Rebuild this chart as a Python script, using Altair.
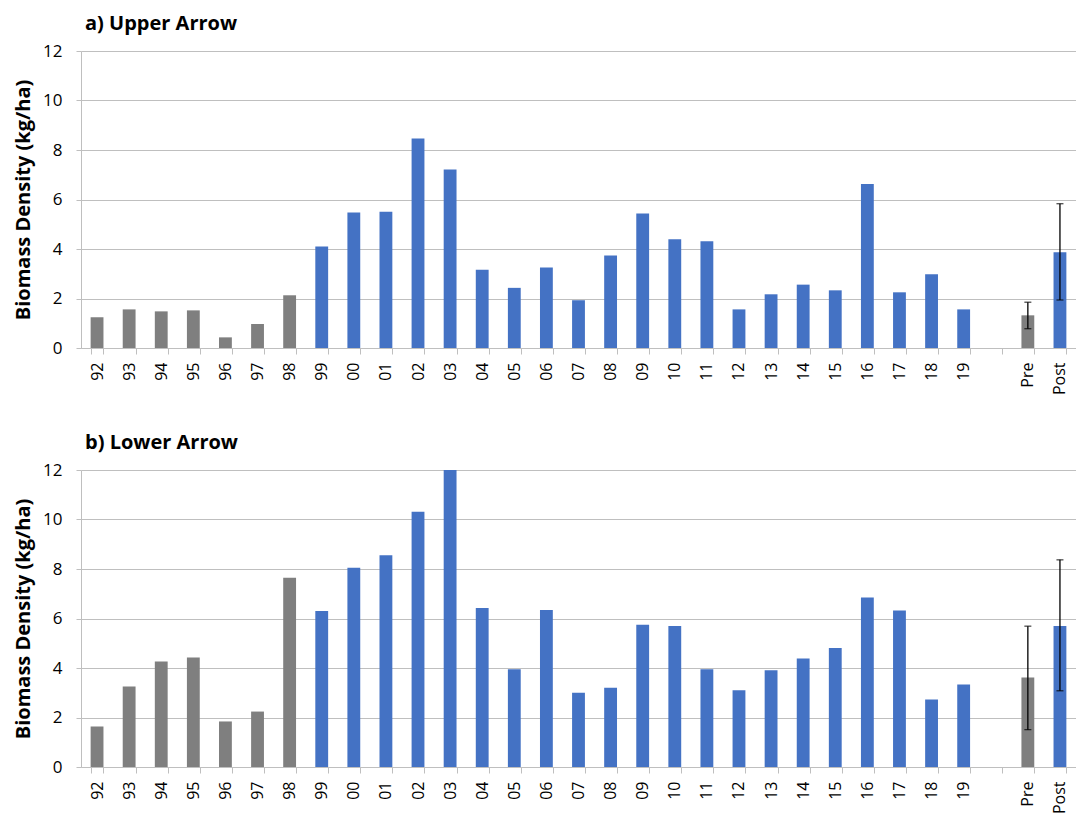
import altair as alt
import pandas as pd

# ---- data ----
years = ["92", "93", "94", "95", "96", "97", "98", "99", "00", "01", "02", "03", "04", "05",
         "06", "07", "08", "09", "10", "11", "12", "13", "14", "15", "16", "17", "18", "19"]
pre_years = ["92", "93", "94", "95", "96", "97", "98"]
summary_labels = ["Pre", "Post"]
categories = years + [" "] + summary_labels

upper_values = [1.24, 1.56, 1.48, 1.52, 0.43, 0.97, 2.13, 4.10, 5.47, 5.51, 8.46, 7.21, 3.16, 2.43,
                3.25, 1.93, 3.74, 5.43, 4.39, 4.31, 1.56, 2.17, 2.56, 2.33, 6.63, 2.25, 2.98, 1.56]
upper_means = [1.32, 3.87]
upper_err_low = [0.78, 1.94]
upper_err_high = [1.85, 5.83]

lower_values = [1.64, 3.25, 4.26, 4.42, 1.84, 2.24, 7.65, 6.30, 8.05, 8.56, 10.31, 12.05, 6.42, 3.95,
                6.34, 3.00, 3.20, 5.75, 5.70, 3.95, 3.10, 3.91, 4.38, 4.81, 6.85, 6.32, 2.73, 3.33]
lower_means = [3.62, 5.70]
lower_err_low = [1.51, 3.08]
lower_err_high = [5.69, 8.37]

y_ticks = [0, 2, 4, 6, 8, 10, 12]

FONT = "Open Sans"
GRID = "#BFBFBF"
W = 995
H = 297


def period(cat):
    return "pre" if (cat in pre_years or cat == "Pre") else "post"


def panel(title, values, means, lo, hi):
    cats = years + summary_labels
    vals = list(values) + list(means)
    df = pd.DataFrame({"cat": cats, "value": vals, "period": [period(c) for c in cats]})
    err = pd.DataFrame({"cat": summary_labels, "lo": lo, "hi": hi})

    xscale = alt.Scale(domain=categories, paddingInner=0.6, paddingOuter=0.3)
    x = alt.X("cat:N", scale=xscale, sort=categories,
              axis=alt.Axis(title=None, labelAngle=-90, tickBand="extent", ticks=True,
                            tickSize=6, tickColor=GRID, domainColor=GRID, labelPadding=8,
                            labelFont=FONT, labelFontSize=16, labelColor="black", grid=False))
    yscale = alt.Scale(domain=[0, 12], nice=False)
    y = alt.Y("value:Q", scale=yscale,
              axis=alt.Axis(values=y_ticks, title="Biomass Density (kg/ha)", grid=True,
                            gridColor=GRID, domainColor=GRID, tickColor=GRID, tickSize=5,
                            labelPadding=14, labelFont=FONT, labelFontSize=17,
                            labelColor="black", titleFont=FONT, titleFontSize=20,
                            titleFontWeight="bold", titleColor="black", titlePadding=9))

    bars = alt.Chart(df).mark_bar(clip=True).encode(
        x=x, y=y,
        color=alt.Color("period:N", scale=alt.Scale(domain=["pre", "post"],
                                                    range=["#7F7F7F", "#4472C4"]), legend=None),
    )
    rule = alt.Chart(err).mark_rule(color="black", strokeWidth=1.3).encode(
        x=alt.X("cat:N", scale=xscale, sort=categories),
        y=alt.Y("lo:Q", scale=yscale), y2="hi:Q")
    cap_lo = alt.Chart(err).mark_tick(color="black", size=7, thickness=1.3).encode(
        x=alt.X("cat:N", scale=xscale, sort=categories), y=alt.Y("lo:Q", scale=yscale))
    cap_hi = alt.Chart(err).mark_tick(color="black", size=7, thickness=1.3).encode(
        x=alt.X("cat:N", scale=xscale, sort=categories), y=alt.Y("hi:Q", scale=yscale))

    return alt.layer(bars, rule, cap_lo, cap_hi).properties(
        width=W, height=H,
        title=alt.TitleParams(title, anchor="start", frame="group", font=FONT, fontSize=20,
                              fontWeight="bold", color="black", offset=8, dx=4),
    )


top = panel("a) Upper Arrow", upper_values, upper_means, upper_err_low, upper_err_high)
bottom = panel("b) Lower Arrow", lower_values, lower_means, lower_err_low, lower_err_high)

chart = alt.vconcat(top, bottom, spacing=122, bounds="flush").properties(
    padding={"left": 5, "top": 6, "right": 0, "bottom": 0}
).configure_view(stroke=None)

chart.save("out.html", embed_options={"renderer": "svg", "actions": False})
